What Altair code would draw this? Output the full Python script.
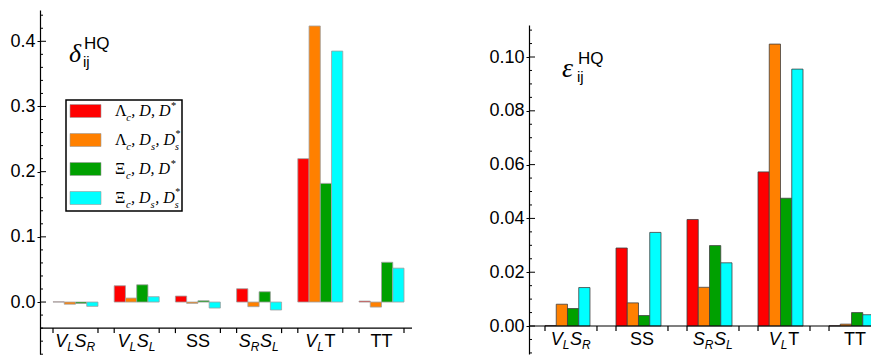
import altair as alt
import pandas as pd

# ---------------- data ----------------
series = ["Λc, D, D*", "Λc, Ds, Ds*", "Ξc, D, D*", "Ξc, Ds, Ds*"]
colors = ["#ff0000", "#ff8000", "#00a000", "#00ffff"]

cats_left = ["VLSR", "VLSL", "SS", "SRSL", "VLT", "TT"]
delta_red = [0.0003, 0.0250, 0.0092, 0.0204, 0.2200, 0.0015]
delta_orange = [-0.0033, 0.0061, -0.0020, -0.0071, 0.4235, -0.0077]
delta_green = [-0.0022, 0.0265, 0.0020, 0.0158, 0.1820, 0.0610]
delta_cyan = [-0.0066, 0.0082, -0.0092, -0.0122, 0.3850, 0.0520]

cats_right = ["VLSR", "SS", "SRSL", "VLT", "TT"]
eps_red = [0.0002, 0.0290, 0.0396, 0.0573, 0.0001]
eps_orange = [0.0081, 0.0086, 0.0144, 0.1048, 0.0007]
eps_green = [0.0065, 0.0039, 0.0299, 0.0475, 0.0050]
eps_cyan = [0.0143, 0.0348, 0.0235, 0.0955, 0.0042]

left_ticks_major = [0.0, 0.1, 0.2, 0.3, 0.4]
left_ticks_minor = [-0.08, -0.06, -0.04, -0.02, 0.02, 0.04, 0.06, 0.08, 0.12, 0.14, 0.16, 0.18,
                    0.22, 0.24, 0.26, 0.28, 0.32, 0.34, 0.36, 0.38, 0.42, 0.44]
right_ticks_major = [0.0, 0.02, 0.04, 0.06, 0.08, 0.10]
right_ticks_minor = [-0.01, -0.005, 0.005, 0.01, 0.015, 0.025, 0.03, 0.035, 0.045, 0.05, 0.055,
                     0.065, 0.07, 0.075, 0.085, 0.09, 0.095, 0.105, 0.11]

# label pieces: (text, kind)
xlabel_pieces = {
    "VLSR": [("V", "it"), ("L", "sub"), ("S", "it"), ("R", "sub")],
    "VLSL": [("V", "it"), ("L", "sub"), ("S", "it"), ("L", "sub")],
    "SS": [("SS", "up")],
    "SRSL": [("S", "it"), ("R", "sub"), ("S", "it"), ("L", "sub")],
    "VLT": [("V", "it"), ("L", "sub"), ("T", "up")],
    "TT": [("TT", "up")],
}
legend_pieces = [
    [("Λ", "u"), ("c", "sub"), (", D, D", "i"), ("*", "sup")],
    [("Λ", "u"), ("c", "sub"), (", D", "i"), ("s", "sub"), (", D", "i"), ("s", "subsup")],
    [("Ξ", "u"), ("c", "sub"), (", D, D", "i"), ("*", "sup")],
    [("Ξ", "u"), ("c", "sub"), (", D", "i"), ("s", "sub"), (", D", "i"), ("s", "subsup")],
]

SANS = "Liberation Sans"
SERIF = "Liberation Serif"
ARIAL_W = {"V": .667, "S": .667, "T": .611, "L": .556, "R": .722}
TIMES_W = {"Λ": .70, "Ξ": .68, "c": .444, ",": .25, " ": .25, "D": .722, "s": .389, "*": .5}


def tw(s, table, size):
    return sum(table.get(ch, .55) for ch in s) * size


def long_df(cats, cols):
    rows = []
    for s, vals in zip(series, cols):
        for c, v in zip(cats, vals):
            rows.append({"cat": c, "series": s, "value": v})
    return pd.DataFrame(rows)


color_scale = alt.Scale(domain=series, range=colors)
one = pd.DataFrame({"a": [0]})


def panel(cats, cols, W, H, ydom, yrange, xrange, pin, axis_val, majors, minors, fmt,
          bar_stroke, label_y, greek, greek_size, title_xy, legend):
    xs = alt.Scale(domain=cats, range=xrange, paddingInner=pin, paddingOuter=0)
    ys = alt.Scale(domain=ydom, range=yrange, nice=False, zero=False)
    yax = alt.Axis(orient="left", values=majors, format=fmt, title=None, grid=False,
                   labelFont=SANS, labelFontSize=18, labelColor="black",
                   tickSize=3, tickColor="black", labelPadding=2,
                   domainColor="black", domainWidth=1.2)
    df = long_df(cats, cols)

    layers = []
    bars = alt.Chart(df).mark_bar(stroke=bar_stroke, strokeWidth=0.8, clip=True).encode(
        x=alt.X("cat:N", scale=xs, axis=None),
        xOffset=alt.XOffset("series:N", sort=series,
                            scale=alt.Scale(domain=series, paddingInner=0, paddingOuter=0)),
        y=alt.Y("value:Q", scale=ys, axis=yax),
        y2=alt.datum(0),
        color=alt.Color("series:N", scale=color_scale, legend=None),
    )
    layers.append(bars)

    # inward ticks on the vertical axis
    for vals, ln in ((majors, 6), (minors, 3)):
        layers.append(
            alt.Chart(pd.DataFrame({"value": vals})).mark_rule(color="black", strokeWidth=1).encode(
                y=alt.Y("value:Q", scale=ys, axis=yax), x=alt.value(0), x2=alt.value(ln)))

    # horizontal axis line
    layers.append(
        alt.Chart(pd.DataFrame({"value": [axis_val]})).mark_rule(color="black", strokeWidth=1.2).encode(
            y=alt.Y("value:Q", scale=ys, axis=yax), x=alt.value(0), x2=alt.value(W)))
    # group ticks at both band edges
    for bp in (0, 1):
        layers.append(
            alt.Chart(pd.DataFrame({"cat": cats, "value": [axis_val] * len(cats)}))
            .mark_rule(color="black", strokeWidth=1.2, y2Offset=5, clip=True)
            .encode(x=alt.X("cat:N", scale=xs, axis=None, bandPosition=bp),
                    y=alt.Y("value:Q", scale=ys, axis=yax), y2="value:Q"))

    # category labels with subscripts
    for c in cats:
        pieces = xlabel_pieces[c]
        widths = [tw(t, ARIAL_W, 12 if k == "sub" else 18) + (0.6 if k == "sub" else 0) for t, k in pieces]
        pos = -sum(widths) / 2
        for (t, k), w in zip(pieces, widths):
            layers.append(
                alt.Chart(pd.DataFrame({"cat": [c]})).mark_text(
                    align="left", baseline="alphabetic", dx=pos, dy=4 if k == "sub" else 0,
                    font=SANS, fontSize=12 if k == "sub" else 18,
                    fontStyle="normal" if k == "up" else "italic", color="black")
                .encode(x=alt.X("cat:N", scale=xs, axis=None), y=alt.value(label_y),
                        text=alt.value(t)))
            pos += w

    # panel title: greek^HQ_ij
    gx, gy = title_xy
    gw = greek_size * 0.5
    layers.append(alt.Chart(one).mark_text(x=gx, y=gy, align="left", baseline="alphabetic",
                                           font=SERIF, fontStyle="italic", fontSize=greek_size,
                                           color="black").encode(text=alt.value(greek)))
    layers.append(alt.Chart(one).mark_text(x=gx + gw + 2, y=gy - 13, align="left", baseline="alphabetic",
                                           font=SANS, fontSize=17, color="black").encode(text=alt.value("HQ")))
    layers.append(alt.Chart(one).mark_text(x=gx + gw + 1, y=gy + 5, align="left", baseline="alphabetic",
                                           font=SANS, fontSize=15, color="black").encode(text=alt.value("ij")))

    if legend:
        bx, by, bx2, by2 = 26, 90, 142, 201
        layers.append(alt.Chart(one).mark_rect(x=bx, y=by, x2=bx2, y2=by2, fill="white",
                                               stroke="black", strokeWidth=1.5)
                      .encode(opacity=alt.value(1)))
        centers = [101, 130, 159, 188]
        for s, cy, pieces in zip(series, centers, legend_pieces):
            layers.append(alt.Chart(pd.DataFrame({"series": [s]})).mark_rect(
                x=bx + 4, x2=bx + 35, y=cy - 6.5, y2=cy + 6.5, stroke="#9a9a9a", strokeWidth=0.6)
                .encode(color=alt.Color("series:N", scale=color_scale, legend=None)))
            px = bx + 49
            base = cy + 5
            for t, k in pieces:
                if k in ("u", "i"):
                    specs = [(t, 16, "normal" if k == "u" else "italic", 0)]
                    w = tw(t, TIMES_W, 16)
                elif k == "sub":
                    specs = [(t, 10.5, "italic", 4.5)]
                    w = tw(t, TIMES_W, 10.5) + 0.5
                elif k == "sup":
                    specs = [(t, 10.5, "italic", -7)]
                    w = tw(t, TIMES_W, 10.5)
                else:  # subsup: subscript s with superscript * stacked above it
                    specs = [(t, 10, "italic", 4.5), ("*", 10, "italic", -8)]
                    w = 5
                for txt, fs, fst, dy in specs:
                    layers.append(alt.Chart(one).mark_text(
                        x=px, y=base + dy, align="left", baseline="alphabetic", font=SERIF,
                        fontSize=fs, fontStyle=fst, color="black").encode(text=alt.value(txt)))
                px += w

    return alt.layer(*layers).properties(width=W, height=H)


left = panel(cats_left, [delta_red, delta_orange, delta_green, delta_cyan],
             W=372, H=344, ydom=[-0.0797, 0.448], yrange=[344, 0],
             xrange=[13, 364], pin=0.265, axis_val=-0.04,
             majors=left_ticks_major, minors=left_ticks_minor, fmt=".1f",
             bar_stroke="#a0a0a0", label_y=337, greek="δ", greek_size=26,
             title_xy=(29, 52), legend=True)

right = panel(cats_right, [eps_red, eps_orange, eps_green, eps_cyan],
              W=342, H=344, ydom=[-0.0104, 0.1119], yrange=[344, 15],
              xrange=[16, 352], pin=0.268, axis_val=0.0,
              majors=right_ticks_major, minors=right_ticks_minor, fmt=".2f",
              bar_stroke="#404040", label_y=335, greek="ε", greek_size=28,
              title_xy=(33, 67), legend=False)

chart = alt.hconcat(left, right, spacing=117, bounds="flush").configure_view(stroke=None).properties(
    padding={"left": 1, "top": 2, "right": 0, "bottom": 0})

chart.save("out.html", embed_options={"renderer": "svg", "actions": False})
